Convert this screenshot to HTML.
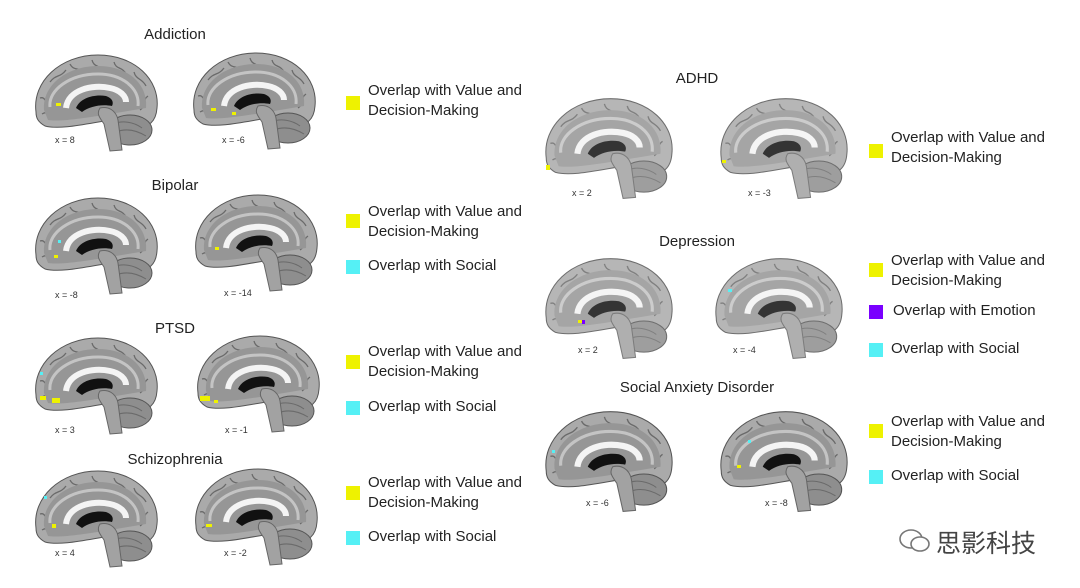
<!DOCTYPE html>
<html><head><meta charset="utf-8"><style>
body{margin:0;width:1080px;height:588px;background:#fff;position:relative;overflow:hidden;font-family:"Liberation Sans","DejaVu Sans",sans-serif;color:#222}
.t{position:absolute;font-size:15px;transform:translateX(-50%);white-space:nowrap}
.l{position:absolute;font-size:15px;line-height:20px;white-space:nowrap}
.sq{position:absolute;width:14px;height:14px}
.y{background:#eef200}.c{background:#55f0f5}.p{background:#7a00ff}
.x{position:absolute;font-size:9px;color:#333}
svg.b{position:absolute;left:0;top:0}
</style></head><body>
<svg class="b" width="1080" height="588">
<defs>
<symbol id="br" viewBox="0 0 130 100">
<path d="M6,60 C2,30 30,3 68,3 C105,3 130,28 127,56 C126,70 118,76 108,74 L80,68 C55,72 30,78 15,74 C8,70 6,66 6,60 Z" fill="#aaaaaa" stroke="#555" stroke-width="1"/>
<g fill="none" stroke="#6a6a6a" stroke-width="1.3">
<path d="M20,30 C26,22 30,26 36,18"/><path d="M40,12 C44,20 50,14 54,22"/><path d="M62,8 C64,16 70,12 72,20"/><path d="M84,10 C86,18 92,14 96,22"/><path d="M104,20 C106,28 112,26 116,34"/><path d="M118,44 C112,48 116,54 110,58"/><path d="M10,46 C16,44 14,52 20,50"/><path d="M12,62 C18,58 22,64 28,60"/>
</g>
<path d="M14,58 C12,34 36,14 68,14 C98,14 118,32 116,56 L80,62 C55,66 30,70 18,68 Z" fill="#969696"/>
<path d="M20,55 C18,38 40,22 68,22 C92,22 110,36 108,54" fill="none" stroke="#c4c4c4" stroke-width="3"/>
<path d="M36,56 C38,38 62,32 80,36 C90,38 96,44 96,50" fill="none" stroke="#f4f4f4" stroke-width="6"/>
<path d="M46,56 C50,46 64,42 76,44 C82,46 84,50 82,54 C72,52 60,54 52,60 Z" fill="#111"/>
<ellipse cx="100" cy="78" rx="22" ry="15" fill="#8e8e8e" stroke="#555"/>
<path d="M84,72 C92,68 104,70 112,76 M86,80 C96,76 106,78 116,84" fill="none" stroke="#6a6a6a"/>
<path d="M70,56 C78,54 86,58 88,68 L92,98 L80,99 L74,72 C70,66 66,62 70,56 Z" fill="#a2a2a2" stroke="#666"/>
</symbol>
</defs>
<use href="#br" x="30" y="52" width="130" height="100"/>
<use href="#br" x="188" y="50" width="130" height="100"/>
<use href="#br" x="30" y="195" width="130" height="100"/>
<use href="#br" x="190" y="192" width="130" height="100"/>
<use href="#br" x="30" y="335" width="130" height="100"/>
<use href="#br" x="192" y="333" width="130" height="100"/>
<use href="#br" x="30" y="468" width="130" height="100"/>
<use href="#br" x="190" y="466" width="130" height="100"/>
<g opacity="0.85">
<use href="#br" x="540" y="95" width="135" height="105"/>
<use href="#br" x="715" y="95" width="135" height="105"/>
<use href="#br" x="540" y="255" width="135" height="105"/>
<use href="#br" x="710" y="255" width="135" height="105"/>
</g>
<use href="#br" x="540" y="408" width="135" height="105"/>
<use href="#br" x="715" y="408" width="135" height="105"/>
<g fill="#eef200">
<rect x="56" y="103" width="5" height="3"/><rect x="211" y="108" width="5" height="3"/><rect x="232" y="112" width="4" height="3"/>
<rect x="54" y="255" width="4" height="3"/><rect x="215" y="247" width="4" height="3"/>
<rect x="40" y="396" width="6" height="4"/><rect x="52" y="398" width="8" height="5"/><rect x="200" y="396" width="10" height="5"/><rect x="214" y="400" width="4" height="3"/>
<rect x="52" y="524" width="4" height="4"/><rect x="206" y="524" width="6" height="3"/>
<rect x="546" y="165" width="4" height="5"/><rect x="722" y="160" width="4" height="3"/>
<rect x="578" y="320" width="4" height="3"/>
<rect x="737" y="465" width="4" height="3"/>
</g>
<g fill="#55f0f5">
<rect x="58" y="240" width="3" height="3"/><rect x="40" y="372" width="3" height="3"/><rect x="44" y="496" width="3" height="3"/>
<rect x="728" y="289" width="4" height="3"/><rect x="552" y="450" width="3" height="3"/><rect x="748" y="440" width="3" height="3"/>
</g>
<rect x="582" y="320" width="3" height="4" fill="#7a00ff"/>
</svg>

<div class="t" style="left:175px;top:26px">Addiction</div>
<div class="t" style="left:175px;top:177px">Bipolar</div>
<div class="t" style="left:175px;top:320px">PTSD</div>
<div class="t" style="left:175px;top:451px">Schizophrenia</div>
<div class="t" style="left:697px;top:70px">ADHD</div>
<div class="t" style="left:697px;top:233px">Depression</div>
<div class="t" style="left:697px;top:379px">Social Anxiety Disorder</div>

<div class="x" style="left:55px;top:135px">x = 8</div>
<div class="x" style="left:222px;top:135px">x = -6</div>
<div class="x" style="left:55px;top:290px">x = -8</div>
<div class="x" style="left:224px;top:288px">x = -14</div>
<div class="x" style="left:55px;top:425px">x = 3</div>
<div class="x" style="left:225px;top:425px">x = -1</div>
<div class="x" style="left:55px;top:548px">x = 4</div>
<div class="x" style="left:224px;top:548px">x = -2</div>
<div class="x" style="left:572px;top:188px">x = 2</div>
<div class="x" style="left:748px;top:188px">x = -3</div>
<div class="x" style="left:578px;top:345px">x = 2</div>
<div class="x" style="left:733px;top:345px">x = -4</div>
<div class="x" style="left:586px;top:498px">x = -6</div>
<div class="x" style="left:765px;top:498px">x = -8</div>

<div class="sq y" style="left:346px;top:96px"></div><div class="l" style="left:368px;top:81px">Overlap with Value and<br>Decision-Making</div>
<div class="sq y" style="left:346px;top:214px"></div><div class="l" style="left:368px;top:202px">Overlap with Value and<br>Decision-Making</div>
<div class="sq c" style="left:346px;top:260px"></div><div class="l" style="left:368px;top:256px">Overlap with Social</div>
<div class="sq y" style="left:346px;top:355px"></div><div class="l" style="left:368px;top:342px">Overlap with Value and<br>Decision-Making</div>
<div class="sq c" style="left:346px;top:401px"></div><div class="l" style="left:368px;top:397px">Overlap with Social</div>
<div class="sq y" style="left:346px;top:486px"></div><div class="l" style="left:368px;top:473px">Overlap with Value and<br>Decision-Making</div>
<div class="sq c" style="left:346px;top:531px"></div><div class="l" style="left:368px;top:527px">Overlap with Social</div>

<div class="sq y" style="left:869px;top:144px"></div><div class="l" style="left:891px;top:128px">Overlap with Value and<br>Decision-Making</div>
<div class="sq y" style="left:869px;top:263px"></div><div class="l" style="left:891px;top:251px">Overlap with Value and<br>Decision-Making</div>
<div class="sq p" style="left:869px;top:305px"></div><div class="l" style="left:893px;top:301px">Overlap with Emotion</div>
<div class="sq c" style="left:869px;top:343px"></div><div class="l" style="left:891px;top:339px">Overlap with Social</div>
<div class="sq y" style="left:869px;top:424px"></div><div class="l" style="left:891px;top:412px">Overlap with Value and<br>Decision-Making</div>
<div class="sq c" style="left:869px;top:470px"></div><div class="l" style="left:891px;top:466px">Overlap with Social</div>

<svg style="position:absolute;left:898px;top:527px" width="34" height="28"><ellipse cx="13" cy="12" rx="11" ry="9" fill="none" stroke="#777" stroke-width="1.6"/><ellipse cx="22" cy="17" rx="9" ry="7" fill="#fff" stroke="#777" stroke-width="1.6"/></svg>
<div style="position:absolute;left:936px;top:524px;font-size:25px;color:#444;font-family:'Liberation Sans','Noto Sans CJK SC',sans-serif">思影科技</div>
</body></html>
